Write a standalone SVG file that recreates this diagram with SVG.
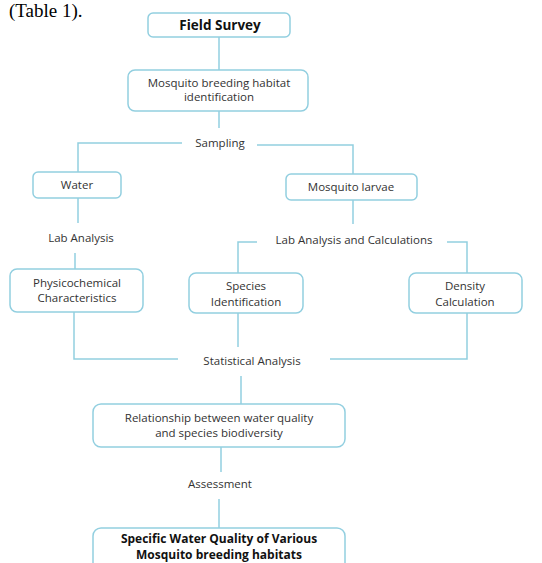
<svg xmlns="http://www.w3.org/2000/svg" width="542" height="563" viewBox="0 0 542 563">
<style>
.box{fill:#fff;stroke:#92cfe0;stroke-width:1.5}
.ln{fill:none;stroke:#92cfe0;stroke-width:1.5}
.t{font-family:"Open Sans","Liberation Sans",sans-serif;font-size:11.5px;fill:#333;text-anchor:middle}
.b{font-weight:bold;fill:#111;font-size:12px}
</style>
<rect width="542" height="563" fill="#fff"/>
<text x="9" y="17" font-family="Liberation Serif,serif" font-size="19" fill="#000">(Table 1).</text>
<g id="connectors">
<path class="ln" d="M219 37V70"/>
<path class="ln" d="M219 111V128"/>
<path class="ln" d="M182 143H78V172"/>
<path class="ln" d="M257 145H353V174"/>
<path class="ln" d="M78 198V223"/>
<path class="ln" d="M75 253V269"/>
<path class="ln" d="M353 200V224"/>
<path class="ln" d="M257 242H238V273"/>
<path class="ln" d="M447 242H467V273"/>
<path class="ln" d="M74 312V359H178"/>
<path class="ln" d="M238 313V347"/>
<path class="ln" d="M330 359H467V313"/>
<path class="ln" d="M241 376V404"/>
<path class="ln" d="M221 447V472"/>
<path class="ln" d="M219 499V528"/>
</g>
<g id="field-survey">
<rect class="box" x="148" y="13" width="142" height="24" rx="5"/>
<text class="t b" x="220" y="30" style="font-size:13.5px">Field Survey</text>
</g>
<g id="habitat-identification">
<rect class="box" x="128" y="70" width="180" height="41" rx="7"/>
<text class="t" x="219" y="87">Mosquito breeding habitat</text>
<text class="t" x="219" y="101">identification</text>
</g>
<g id="sampling">
<text class="t" x="220" y="147">Sampling</text>
</g>
<g id="water">
<rect class="box" x="33" y="172" width="88" height="26" rx="5"/>
<text class="t" x="77" y="189">Water</text>
</g>
<g id="mosquito-larvae">
<rect class="box" x="286" y="174" width="131" height="26" rx="5"/>
<text class="t" x="351" y="191">Mosquito larvae</text>
</g>
<g id="lab-analysis">
<text class="t" x="81" y="242">Lab Analysis</text>
</g>
<g id="lab-analysis-calculations">
<text class="t" x="354" y="244">Lab Analysis and Calculations</text>
</g>
<g id="physicochemical">
<rect class="box" x="10" y="269" width="133" height="43" rx="7"/>
<text class="t" x="77" y="287">Physicochemical</text>
<text class="t" x="77" y="302">Characteristics</text>
</g>
<g id="species-identification">
<rect class="box" x="189" y="273" width="114" height="40" rx="7"/>
<text class="t" x="246" y="290">Species</text>
<text class="t" x="246" y="306">Identification</text>
</g>
<g id="density-calculation">
<rect class="box" x="409" y="273" width="113" height="40" rx="7"/>
<text class="t" x="465" y="290">Density</text>
<text class="t" x="465" y="306">Calculation</text>
</g>
<g id="statistical-analysis">
<text class="t" x="252" y="365">Statistical Analysis</text>
</g>
<g id="relationship">
<rect class="box" x="93" y="404" width="252" height="43" rx="8"/>
<text class="t" x="219" y="422">Relationship between water quality</text>
<text class="t" x="219" y="437">and species biodiversity</text>
</g>
<g id="assessment">
<text class="t" x="220" y="488">Assessment</text>
</g>
<g id="specific-water-quality">
<rect class="box" x="93" y="528" width="252" height="45" rx="8"/>
<text class="t b" x="219" y="543">Specific Water Quality of Various</text>
<text class="t b" x="219" y="559">Mosquito breeding habitats</text>
</g>
</svg>
